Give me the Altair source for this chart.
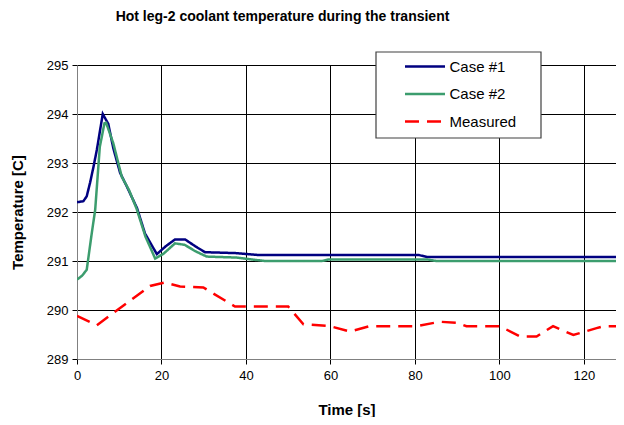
import altair as alt
import pandas as pd

# ---- data ----
series_names = ["Case #1", "Case #2", "Measured"]
series_colors = ["#000080", "#3C9D6E", "#FF0000"]

t_case1 = [0, 1.5, 2.3, 3.1, 3.9, 4.7, 6.1, 7.4, 8.6, 10.2, 11.8, 14.2, 16.1, 18.9,
           21, 23.2, 25.6, 28, 30.3, 37.8, 43.3, 81, 83, 130]
temp_case1 = [292.2, 292.22, 292.32, 292.6, 292.92, 293.27, 294.0, 293.8, 293.3, 292.8,
              292.52, 292.08, 291.56, 291.14, 291.3, 291.44, 291.44, 291.3, 291.18,
              291.16, 291.12, 291.12, 291.08, 291.08]

t_case2 = [0, 1.2, 2.3, 3.5, 4.3, 5.4, 6.5, 6.9, 8.6, 10.6, 12.3, 14.1, 16.2, 18.5,
           20.5, 23.2, 25.5, 28, 30.7, 37.8, 42.5, 44.5, 58, 59.5, 83, 85, 130]
temp_case2 = [290.62, 290.7, 290.82, 291.57, 292.04, 293.33, 293.81, 293.82, 293.4,
              292.72, 292.45, 292.07, 291.5, 291.05, 291.15, 291.36, 291.33, 291.2,
              291.09, 291.07, 291.02, 291.0, 291.0, 291.03, 291.03, 291.0, 291.0]

t_meas = [0, 4.7, 17.3, 20.8, 24.4, 29.9, 37.4, 50, 53.6, 59.9, 64.6, 69.3, 80.4,
          85.9, 89.9, 92.2, 100.1, 104.9, 108.8, 112.7, 117.5, 123, 124.7, 130]
temp_meas = [289.88, 289.69, 290.49, 290.56, 290.48, 290.46, 290.07, 290.07, 289.71,
             289.67, 289.56, 289.67, 289.67, 289.76, 289.74, 289.67, 289.67, 289.46,
             289.46, 289.67, 289.49, 289.63, 289.67, 289.67]

x_ticks = [0, 20, 40, 60, 80, 100, 120]
y_ticks = [289, 290, 291, 292, 293, 294, 295]

rows = []
for name, ts, vs in zip(series_names, [t_case1, t_case2, t_meas],
                        [temp_case1, temp_case2, temp_meas]):
    for t, v in zip(ts, vs):
        rows.append({"series": name, "t": t, "T": v})
df = pd.DataFrame(rows)

FONT = "Liberation Sans"

legend_cfg = dict(
    title=None,
    orient="none",
    legendX=328,
    legendY=-6,
    padding=0,
    symbolType="M-4,0H4",
    symbolSize=100,
    symbolStrokeWidth=3,
    symbolOffset=12.5,
    labelOffset=17,
    labelFontSize=15,
    labelFont=FONT,
    labelColor="#000000",
    rowPadding=11.5,
)

lines = alt.Chart(df).mark_line(clip=True).encode(
    x=alt.X("t:Q",
            scale=alt.Scale(domain=[0, 127.6], nice=False, zero=False),
            axis=alt.Axis(values=x_ticks, title="Time [s]", format="d")),
    y=alt.Y("T:Q",
            scale=alt.Scale(domain=[289, 295], nice=False, zero=False),
            axis=alt.Axis(values=y_ticks, title="Temperature [C]", format="d")),
    color=alt.Color("series:N",
                    scale=alt.Scale(domain=series_names, range=series_colors),
                    legend=alt.Legend(**legend_cfg)),
    strokeDash=alt.StrokeDash("series:N",
                              scale=alt.Scale(domain=series_names,
                                              range=[[1, 0], [1, 0], [14, 8]]),
                              legend=alt.Legend(**legend_cfg)),
    strokeWidth=alt.StrokeWidth("series:N",
                                scale=alt.Scale(domain=series_names, range=[2.5, 2.5, 3]),
                                legend=None),
)

legend_box = alt.Chart(pd.DataFrame({"k": [0]})).mark_rect(
    fill="white", stroke="#404040", strokeWidth=1.2
).encode(
    x=alt.value(299), x2=alt.value(464), y=alt.value(-13), y2=alt.value(73)
)

chart = alt.layer(lines, legend_box).properties(
    width=539,
    height=294,
    autosize=alt.AutoSizeParams(type="none"),
    padding={"left": 69, "top": 57, "right": 0, "bottom": 58},
    title=alt.TitleParams(
        "Hot leg-2 coolant temperature during the transient",
        font=FONT, fontSize=14, fontWeight="bold", color="#000000",
        anchor="middle", dx=-64, offset=27,
    ),
).configure_view(
    stroke=None
).configure_axis(
    labelFont=FONT, labelFontSize=13, labelColor="#000000",
    titleFont=FONT, titleFontSize=15, titleFontWeight="bold", titleColor="#000000",
    grid=True, gridColor="#000000", gridWidth=1, gridOpacity=1,
    domainColor="#808080", domainWidth=1,
    tickColor="#000000", tickSize=5, tickWidth=1,
).configure_axisX(
    labelPadding=5, titlePadding=20, labelFlush=False,
).configure_axisY(
    labelPadding=4, titlePadding=21,
)

chart.save("out.html", embed_options={"renderer": "svg", "actions": False})
